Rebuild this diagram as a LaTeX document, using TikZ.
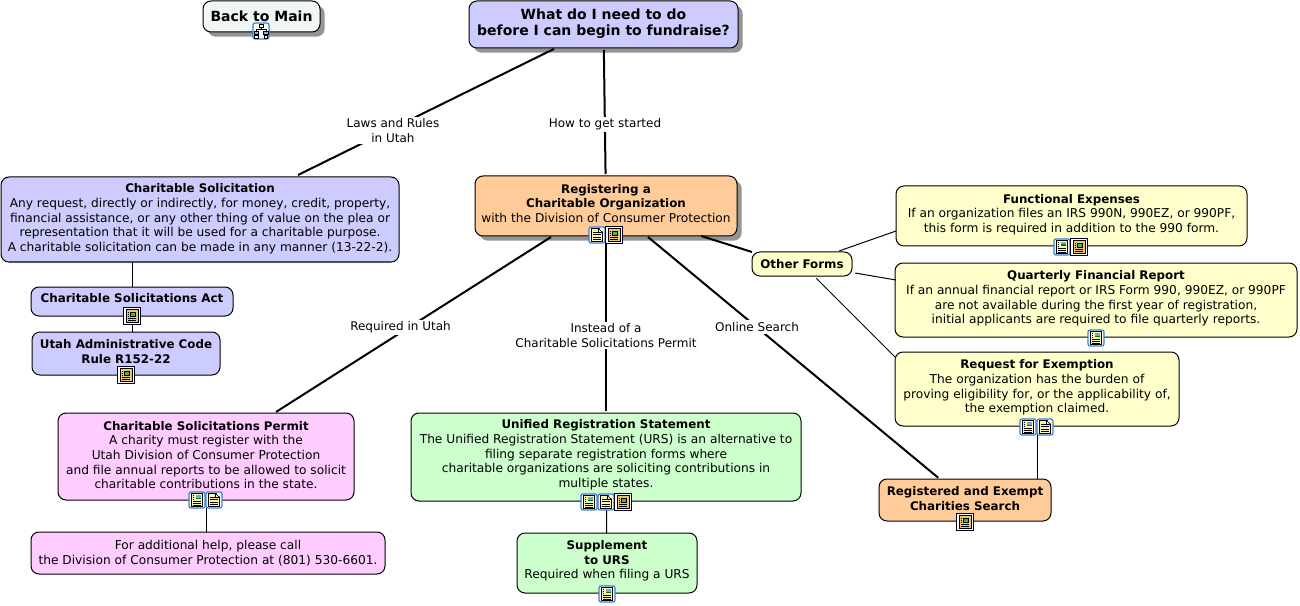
\documentclass[tikz,border=0pt]{standalone}
\usepackage{fontspec}
\setmainfont{DejaVu Sans}
\usetikzlibrary{shadows}
\definecolor{cblue}{HTML}{CCCCFF}
\definecolor{cpink}{HTML}{FFCCFF}
\definecolor{cgreen}{HTML}{CCFFCC}
\definecolor{corange}{HTML}{FFCC99}
\definecolor{cyellow}{HTML}{FFFFCC}
\definecolor{cpale}{HTML}{EEF6F6}
\definecolor{iconblue}{HTML}{3C7FD0}
\definecolor{icondoc}{HTML}{FFF6B0}
\definecolor{iconweb}{HTML}{EFC468}
\newcommand{\bt}[1]{{\bfseries\fontsize{8.9}{11}\selectfont #1}}
\tikzset{
  x=0.75pt,y=-0.75pt,
  boxshape/.style={draw=black,line width=0.75pt,rounded corners=6pt,inner sep=0pt,outer sep=0pt},
  shad/.style={drop shadow={shadow xshift=3.5pt,shadow yshift=-3.5pt,fill=black,opacity=0.42}},
  txt/.style={align=center,inner sep=0pt,font=\fontsize{9.15}{11}\selectfont,text=black},
  big/.style={font=\bfseries\fontsize{10.5}{12.2}\selectfont},
  lbl/.style={align=center,fill=white,inner sep=1.5pt,font=\fontsize{9}{11}\selectfont},
  thick link/.style={line width=1.5pt},
  thin link/.style={line width=0.75pt},
  pics/framed/.style={code={
    \fill[white,draw=iconblue,line width=0.9pt,rounded corners=1.5pt] (-8,-8) rectangle (8,8);
    \draw[black,line width=0.7pt,fill=icondoc] (-5.5,-6.5) rectangle (5.5,6.5);}},
  pics/docicon/.style={code={
    \pic {framed};
    \fill[white] (2.5,-7) -- (6,-7) -- (6,-3) -- cycle;
    \draw[black,line width=0.5pt] (1.5,-6.5) -- (5.5,-2.5) -- (1.5,-2.5) -- cycle;
    \foreach \yy in {-3,-0.5,2,4.5}{\draw[black,line width=0.5pt] (-4,\yy) -- (3.5,\yy);}}},
  pics/imgicon/.style={code={
    \pic {framed};
    \fill[iconblue!70] (-1.5,-5) rectangle (4,-1);
    \fill[green!50!black] (-1.5,-2.5) rectangle (4,-1);
    \foreach \yy in {1,3,5}{\draw[black,line width=0.5pt] (-4,\yy) -- (4,\yy);}
    \foreach \yy in {-4.5,-2.5,-1}{\draw[black,line width=0.5pt] (-4.3,\yy) -- (-2.8,\yy);}}},
  pics/webicon/.style={code={
    \fill[white,draw=black!85!blue,line width=0.9pt] (-8.5,-8.5) rectangle (8.5,8.5);
    \fill[iconweb,draw=black,line width=0.6pt] (-6,-6.5) rectangle (6,6.5);
    \fill[green!45!gray,draw=black,line width=0.4pt] (-2,-4) rectangle (3,0.5);
    \foreach \yy in {2.5,4.5}{\draw[black,line width=0.5pt] (-4,\yy) -- (4,\yy);}
    \foreach \yy in {-3.5,-1.5,0.5}{\draw[black,line width=0.5pt] (-4.5,\yy) -- (-3,\yy);}}},
  pics/mapicon/.style={code={
    \fill[white,draw=iconblue,line width=0.9pt,rounded corners=1.5pt] (-8,-8) rectangle (8,8);
    \draw[black,line width=0.6pt,fill=icondoc] (-2,-7) rectangle (2,-3.5);
    \draw[black,line width=0.6pt,fill=iconblue!60] (-7,0) rectangle (-2.5,3);
    \draw[black,line width=0.6pt,fill=iconblue!60] (2.5,0) rectangle (7,3);
    \draw[black,line width=0.6pt,fill=white] (-6.5,4.5) rectangle (-3,7);
    \draw[black,line width=0.6pt,fill=white] (3,4.5) rectangle (6.5,7);
    \draw[black,line width=0.6pt] (0,-3.5) -- (0,-1.5) (-5,0) -- (-5,-1.5) -- (5,-1.5) -- (5,0) (-5,3) -- (-5,4.5) (5,3) -- (5,4.5);}},
}
% name, x1, y1, x2, y2, box options, text offset, text options, text
\newcommand{\cmapbox}[9]{%
  \pgfmathsetmacro{\bw}{(#4-#2)*0.75}%
  \pgfmathsetmacro{\bh}{(#5-#3)*0.75}%
  \pgfmathsetmacro{\bx}{(#2+#4)/2}%
  \pgfmathsetmacro{\by}{(#3+#5)/2}%
  \pgfmathsetmacro{\ty}{\by+#7}%
  \node[boxshape,#6,minimum width=\bw pt,minimum height=\bh pt] (#1) at (\bx,\by) {};
  \node[txt,#8] (#1-text) at (\bx,\ty) {#9};
}
\begin{document}
\begin{tikzpicture}
\useasboundingbox (0,0) rectangle (1300,606);
% boxes
\cmapbox{back}{203}{1}{320}{32}{fill=cpale,shad}{-0.5}{big}{Back to Main}
\cmapbox{top}{469}{1}{738}{48}{fill=cblue,shad}{-0.5}{big}{What do I need to do\\before I can begin to fundraise?}
\cmapbox{cs}{1}{177}{399}{262}{fill=cblue}{-0.5}{}{\bt{Charitable Solicitation}\\Any request, directly or indirectly, for money, credit, property,\\financial assistance, or any other thing of value on the plea or\\representation that it will be used for a charitable purpose.\\A charitable solicitation can be made in any manner (13-22-2).}
\cmapbox{act}{31}{287}{233}{316}{fill=cblue}{-3}{}{\bt{Charitable Solicitations Act}}
\cmapbox{rule}{32}{332}{220}{375}{fill=cblue}{-2}{}{\bt{Utah Administrative Code}\\\bt{Rule R152-22}}
\cmapbox{permit}{58}{413}{354}{500}{fill=cpink}{-1.5}{}{\bt{Charitable Solicitations Permit}\\A charity must register with the\\Utah Division of Consumer Protection\\and file annual reports to be allowed to solicit\\charitable contributions in the state.}
\cmapbox{help}{31}{532}{385}{574}{fill=cpink}{0}{}{For additional help, please call\\the Division of Consumer Protection at (801) 530-6601.}
\cmapbox{reg}{475}{176}{737}{236}{fill=corange,shad}{-2.5}{}{\bt{Registering a}\\\bt{Charitable Organization}\\with the Division of Consumer Protection}
\cmapbox{urs}{411}{413}{801}{501}{fill=cgreen}{-2}{}{\bt{Unified Registration Statement}\\The Unified Registration Statement (URS) is an alternative to\\filing separate registration forms where\\charitable organizations are soliciting contributions in\\multiple states.}
\cmapbox{supp}{517}{533}{697}{593}{fill=cgreen}{-2}{}{\bt{Supplement}\\\bt{to URS}\\Required when filing a URS}
\cmapbox{search}{879}{479}{1051}{521}{fill=corange}{-1.5}{}{\bt{Registered and Exempt}\\\bt{Charities Search}}
\cmapbox{other}{752}{252}{852}{276}{fill=cyellow}{0.5}{}{\bt{Other Forms}}
\cmapbox{func}{896}{186}{1247}{246}{fill=cyellow}{-1.5}{}{\bt{Functional Expenses}\\If an organization files an IRS 990N, 990EZ, or 990PF,\\this form is required in addition to the 990 form.}
\cmapbox{qfr}{895}{263}{1297}{337}{fill=cyellow}{-1.5}{}{\bt{Quarterly Financial Report}\\If an annual financial report or IRS Form 990, 990EZ, or 990PF\\are not available during the first year of registration,\\initial applicants are required to file quarterly reports.}
\cmapbox{exempt}{895}{352}{1179}{426}{fill=cyellow}{-1.5}{}{\bt{Request for Exemption}\\The organization has the burden of\\proving eligibility for, or the applicability of,\\the exemption claimed.}
% free ends of connectors
\coordinate (csin) at (298,175);
\coordinate (regp) at (551,237);
\coordinate (regs) at (648,237);
\coordinate (otherin) at (752,252);
\coordinate (funcin) at (896,231);
\coordinate (qfrin) at (896,280);
\coordinate (exemptin) at (895,357);
% connectors
\draw[thick link,shorten <=1.5pt] (top) -- (csin);
\draw[thick link,shorten <=1.5pt,shorten >=1.5pt] (top) -- (reg);
\draw[thick link,shorten >=1.5pt] (regp) -- (permit);
\draw[thick link,shorten <=1pt,shorten >=1.5pt] (reg) -- (urs);
\draw[thick link,shorten >=1.5pt] (regs) -- (search);
\draw[thick link] (reg) -- (otherin);
\draw[thin link,shorten <=2.5pt] (other) -- (funcin);
\draw[thin link,shorten <=2.5pt] (other) -- (qfrin);
\draw[thin link,shorten <=2.5pt] (other) -- (exemptin);
\draw[thin link] (cs.south -| act.north) -- (act.north);
\draw[thin link] (act) -- (act |- rule.north);
\draw[thin link] (permit) -- (permit |- help.north);
\draw[thin link] (urs) -- (supp);
\draw[thin link] (exempt) -- (exempt |- search.north);
% connector labels
\node[lbl] (l1) at (393,130.5) {Laws and Rules\\in Utah};
\node[lbl] (l2) at (605,124.5) {How to get started};
\node[lbl] (l3) at (400.5,327.5) {Required in Utah};
\node[lbl] (l4) at (606,335.5) {Instead of a\\Charitable Solicitations Permit};
\node[lbl] (l5) at (757,327) {Online Search};
% icons
\pic at (261,31) {mapicon};
\pic at (597,235) {docicon};
\pic at (614,235) {webicon};
\pic at (132,316) {webicon};
\pic at (126,375) {webicon};
\pic at (197,500) {imgicon};
\pic at (214,500) {docicon};
\pic at (589,502) {imgicon};
\pic at (606,502) {docicon};
\pic at (623,502) {webicon};
\pic at (607,594) {imgicon};
\pic at (1062,247) {imgicon};
\pic at (1079,247) {webicon};
\pic at (1096,338) {imgicon};
\pic at (1028,427) {imgicon};
\pic at (1045,427) {docicon};
\pic at (965,522) {webicon};
\end{tikzpicture}
\end{document}
